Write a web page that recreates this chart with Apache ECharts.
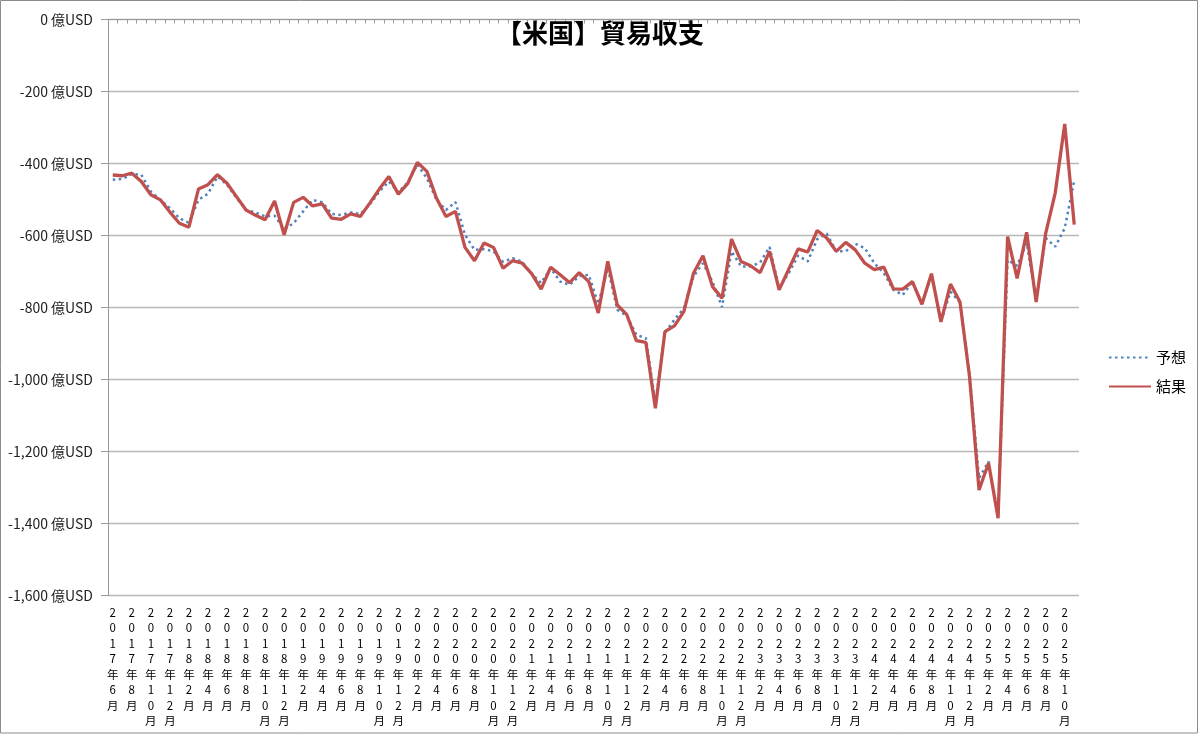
<!DOCTYPE html>
<html>
<head>
<meta charset="utf-8">
<script src="https://cdn.jsdelivr.net/npm/echarts@6/dist/echarts.min.js"></script>
<style>
html,body{margin:0;padding:0;background:#fff;}
#chart{width:1200px;height:734px;}
</style>
</head>
<body>
<div id="chart"></div>
<script>
const categories = [];
(function(){
  let y = 2017, m = 6;
  for (let i = 0; i < 102; i++) {
    categories.push(y + '年' + m + '月');
    m++; if (m > 12) { m = 1; y++; }
  }
})();

const forecast = [
  -445,-443,-429,-431,-478,-501,-524,-552,-565,-501,
  -484,-436,-459,-496,-529,-536,-547,-545,-582,-566,
  -533,-501,-508,-540,-543,-536,-540,-514,-478,-450,
  -480,-452,-403,-441,-501,-529,-507,-598,-640,-638,
  -644,-673,-663,-673,-706,-732,-691,-728,-737,-713,
  -709,-790,-690,-806,-823,-876,-885,-1065,-870,-834,
  -802,-714,-677,-728,-799,-644,-686,-686,-675,-632,
  -746,-705,-656,-672,-610,-595,-644,-644,-623,-635,
  -677,-705,-751,-765,-728,-791,-710,-839,-756,-786,
  -985,-1274,-1228,-1375,-668,-684,-621,-775,-607,-631,
  -580,-447
];

const result = [
  -432,-434,-427,-450,-487,-501,-535,-566,-577,-471,
  -459,-431,-455,-492,-529,-544,-556,-504,-598,-508,
  -494,-518,-512,-552,-555,-540,-547,-510,-471,-436,
  -485,-455,-397,-422,-496,-547,-533,-633,-670,-621,
  -633,-691,-670,-677,-706,-749,-688,-709,-731,-703,
  -728,-815,-672,-793,-820,-892,-897,-1080,-867,-851,
  -811,-705,-656,-742,-774,-610,-672,-684,-703,-644,
  -751,-694,-637,-646,-586,-607,-644,-619,-640,-677,
  -695,-688,-748,-749,-728,-791,-706,-840,-735,-785,
  -992,-1307,-1232,-1385,-603,-719,-591,-785,-594,-482,
  -290,-570
];

const yTicks = { min: -1600, max: 0, interval: 200 };

const FONT = '"Noto Sans CJK JP", "Noto Sans", sans-serif';

const chart = echarts.init(document.getElementById('chart'));
chart.setOption({
  animation: false,
  backgroundColor: '#fff',
  title: {
    text: '【米国】貿易収支',
    left: 'center',
    top: 15,
    textStyle: { fontFamily: FONT, fontWeight: 'bold', fontSize: 26, color: '#000' }
  },
  legend: {
    orient: 'vertical',
    left: 1103,
    top: 345,
    itemWidth: 42,
    itemHeight: 14,
    itemGap: 14,
    itemStyle: { opacity: 0 },
    textStyle: { fontFamily: FONT, fontSize: 15, color: '#000' },
    data: ['予想', '結果']
  },
  graphic: [{
    type: 'rect',
    shape: { x: 0.5, y: 0.5, width: 1197, height: 732.5 },
    style: { fill: 'none', stroke: '#8c8c8c', lineWidth: 1 },
    silent: true, z: 100
  }],
  grid: { left: 108, right: 121, top: 19.5, bottom: 138.5, containLabel: false },
  xAxis: [{
    type: 'category',
    data: categories,
    boundaryGap: true,
    position: 'bottom',
    axisLine: { show: false, onZero: false },
    axisTick: { show: false },
    axisLabel: {
      interval: 1,
      margin: 9,
      fontFamily: FONT,
      fontSize: 11.5,
      lineHeight: 15.5,
      color: '#000',
      verticalAlign: 'top',
      formatter: function (v) { return v.split('').join('\n'); }
    }
  }, {
    type: 'category',
    data: categories,
    boundaryGap: true,
    position: 'top',
    axisLine: { show: true, onZero: false, lineStyle: { color: '#9a9a9a', width: 1 } },
    axisTick: { show: true, inside: true, interval: 0, length: 4, lineStyle: { color: '#9a9a9a' } },
    axisLabel: { show: false }
  }],
  yAxis: {
    type: 'value',
    min: yTicks.min,
    max: yTicks.max,
    interval: yTicks.interval,
    axisLine: { show: true, lineStyle: { color: '#9a9a9a', width: 1 } },
    axisTick: { show: true, length: 7, lineStyle: { color: '#9a9a9a' } },
    splitLine: { show: true, lineStyle: { color: '#b8b8b8', width: 1.3 } },
    axisLabel: {
      margin: 15,
      fontFamily: FONT,
      fontSize: 14,
      color: '#222',
      formatter: function (v) {
        return v.toLocaleString('en-US') + ' 億USD';
      }
    }
  },
  series: [{
    name: '予想',
    type: 'line',
    xAxisIndex: 0,
    data: forecast,
    symbol: 'none',
    lineStyle: { color: '#4F81BD', width: 2.5, type: [2.5, 3.5], cap: 'butt' },
    itemStyle: { color: '#4F81BD' },
    z: 2
  }, {
    name: '結果',
    type: 'line',
    xAxisIndex: 0,
    data: result,
    symbol: 'none',
    lineStyle: { color: '#C0504D', width: 3.3 },
    itemStyle: { color: '#C0504D' },
    z: 3
  }]
});
</script>
</body>
</html>
